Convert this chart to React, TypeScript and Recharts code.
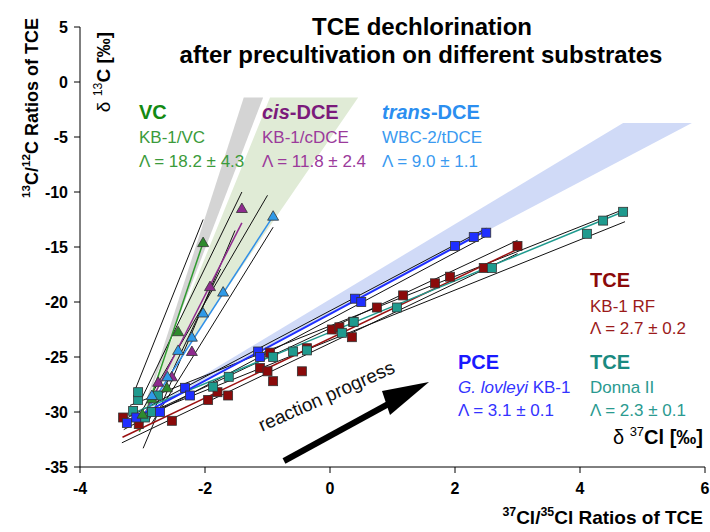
import React from 'react'
import { ScatterChart, Scatter, XAxis, YAxis } from 'recharts'

// shaded Λ ranges (apex, top-left, top-right)
const grayBandX = [-3.0, -1.38, -1.07]
const grayBandY = [-30.0, -1.4, -1.4]
const greenBandX = [-3.0, -0.96, 0.45]
const greenBandY = [-30.0, -1.4, -1.4]
const blueBandX = [-3.0, 4.69, 5.79]
const blueBandY = [-30.0, -3.73, -3.73]

// VC (KB-1/VC)
const vcX = [-3.0, -2.85, -2.61, -2.43, -2.03]
const vcY = [-30.2, -28.8, -27.8, -22.7, -14.6]
const vcFitX = [-3.05, -2.03]
const vcFitY = [-31.8, -14.6]

// cis-DCE (KB-1/cDCE)
const cdceX = [-2.75, -2.53, -2.21, -1.92, -1.41]
const cdceY = [-27.3, -26.8, -24.5, -18.6, -11.5]
const cdceFitX = [-2.95, -1.41]
const cdceFitY = [-30.0, -12.8]

// trans-DCE (WBC-2/tDCE)
const tdceX = [-2.85, -2.6, -2.43, -2.21, -2.03, -1.71, -0.91]
const tdceY = [-28.5, -26.8, -24.4, -23.2, -21.0, -19.1, -12.2]
const tdceFitX = [-3.0, -0.91]
const tdceFitY = [-30.5, -12.2]

// confidence lines of the steep group
const steepCi = [
  { x: [-3.12, -2.03], y: [-28.0, -12.5] },
  { x: [-2.99, -1.52], y: [-33.3, -13.5] },
  { x: [-3.05, -1.41], y: [-29.2, -10.0] },
  { x: [-3.0, -1.0], y: [-29.8, -10.3] },
  { x: [-2.85, -0.91], y: [-31.0, -13.2] },
  { x: [-2.9, -1.75], y: [-30.8, -17.0] },
]

// PCE (G. lovleyi KB-1)
const pceX = [-3.25, -3.1, -2.72, -2.32, -2.24, -1.15, -1.12, 0.4, 0.5, 2.0, 2.3, 2.5]
const pceY = [-31.0, -30.5, -30.0, -27.8, -28.5, -24.5, -25.0, -19.7, -20.0, -14.9, -14.1, -13.7]
const pceFitX = [-3.3, 2.5]
const pceFitY = [-31.1, -13.5]

// TCE (KB-1 RF)
const rfX = [-3.31, -3.06, -2.53, -1.95, -1.8, -1.63, -1.12, -1.0, -0.96, -0.91, -0.45, -0.37, 0.03, 0.15, 0.35, 0.37, 0.75, 1.17, 1.68, 1.92, 2.46, 3.0]
const rfY = [-30.5, -31.1, -30.8, -28.9, -28.2, -28.5, -26.0, -26.3, -24.6, -27.2, -26.3, -24.2, -22.5, -22.3, -23.2, -21.8, -20.5, -19.4, -18.3, -17.7, -16.9, -14.9]
const rfFitX = [-3.32, 3.0]
const rfFitY = [-32.3, -15.2]

// TCE (Donna II)
const donnaX = [-3.15, -3.07, -3.07, -2.96, -2.85, -2.75, -1.87, -1.62, -0.91, -0.59, -0.37, 0.19, 0.38, 1.07, 2.59, 4.11, 4.37, 4.69]
const donnaY = [-29.9, -28.9, -28.2, -30.5, -30.0, -28.5, -27.7, -26.8, -25.0, -24.5, -24.4, -22.8, -21.8, -20.5, -16.9, -13.8, -12.6, -11.8]
const donnaFitX = [-3.15, 4.69]
const donnaFitY = [-30.1, -11.8]

// confidence lines of the shallow group
const shallowCi = [
  { x: [-3.3, 2.5], y: [-30.7, -13.3] },
  { x: [-3.3, 2.5], y: [-31.6, -14.0] },
  { x: [-3.3, 3.0], y: [-31.2, -14.4] },
  { x: [-3.33, 3.0], y: [-32.8, -15.6] },
  { x: [-3.2, 4.69], y: [-29.4, -11.6] },
  { x: [-3.2, 4.72], y: [-30.8, -12.7] },
]

const xTicks = [-4, -2, 0, 2, 4, 6]
const yTicks = [-35, -30, -25, -20, -15, -10, -5, 0, 5]

const pts = (xs: number[], ys: number[]) => xs.map((x, i) => ({ x, y: ys[i] }))

const FONT = '"Liberation Sans", Arial, sans-serif'

const square = (color: string) => (p: any) => (
  <rect x={p.cx - 4.5} y={p.cy - 4.5} width={9} height={9} fill={color} stroke="#333" strokeWidth={0.8} />
)
const triangle = (color: string) => (p: any) => (
  <polygon
    points={`${p.cx},${p.cy - 5.5} ${p.cx - 5.5},${p.cy + 4} ${p.cx + 5.5},${p.cy + 4}`}
    fill={color}
    stroke="#333"
    strokeWidth={0.8}
  />
)
const noDot = () => <g />

const band = (color: string) => (lp: any) => (
  <path
    d={'M' + lp.points.map((pt: any) => `${pt.x},${pt.y}`).join('L') + 'Z'}
    fill={color}
    stroke="none"
  />
)

const Sup = ({ children }: { children: string }) => (
  <tspan fontSize="0.65em" dy={-8}>
    {children}
  </tspan>
)

export default function App() {
  return (
    <div style={{ position: 'absolute', left: 0, top: 0, width: 710, height: 532, background: '#fff' }}>
      <ScatterChart width={710} height={532} margin={{ top: 27, right: 5, bottom: 35, left: 0 }}>
        <XAxis
          dataKey="x"
          type="number"
          domain={[-4, 6]}
          ticks={xTicks}
          allowDataOverflow
          stroke="#000"
          tickSize={6}
          tickMargin={10}
          height={30}
          tick={{ fill: '#000', fontSize: 16, fontWeight: 'bold', fontFamily: FONT }}
        />
        <YAxis
          dataKey="y"
          type="number"
          domain={[-35, 5]}
          ticks={yTicks}
          allowDataOverflow
          stroke="#000"
          tickSize={6}
          tickMargin={6}
          width={80}
          tick={{ fill: '#000', fontSize: 16, fontWeight: 'bold', fontFamily: FONT }}
        />

        <Scatter data={pts(grayBandX, grayBandY)} shape={noDot} line={band('#d4d4d4')} isAnimationActive={false} />
        <Scatter data={pts(greenBandX, greenBandY)} shape={noDot} line={band('#e0ebd6')} isAnimationActive={false} />
        <Scatter data={pts(blueBandX, blueBandY)} shape={noDot} line={band('#d0daf7')} isAnimationActive={false} />

        {[...steepCi, ...shallowCi].map((c, i) => (
          <Scatter
            key={'ci' + i}
            data={pts(c.x, c.y)}
            shape={noDot}
            line={{ stroke: '#111', strokeWidth: 1 }}
            isAnimationActive={false}
          />
        ))}

        <Scatter data={pts(vcFitX, vcFitY)} shape={noDot} line={{ stroke: '#2e9a2e', strokeWidth: 1.5 }} isAnimationActive={false} />
        <Scatter data={pts(cdceFitX, cdceFitY)} shape={noDot} line={{ stroke: '#8e2a8e', strokeWidth: 1.5 }} isAnimationActive={false} />
        <Scatter data={pts(tdceFitX, tdceFitY)} shape={noDot} line={{ stroke: '#2f8fe8', strokeWidth: 1.5 }} isAnimationActive={false} />
        <Scatter data={pts(rfFitX, rfFitY)} shape={noDot} line={{ stroke: '#9a1010', strokeWidth: 1.5 }} isAnimationActive={false} />
        <Scatter data={pts(donnaFitX, donnaFitY)} shape={noDot} line={{ stroke: '#1f9a8e', strokeWidth: 1.5 }} isAnimationActive={false} />
        <Scatter data={pts(pceFitX, pceFitY)} shape={noDot} line={{ stroke: '#1f2fff', strokeWidth: 2 }} isAnimationActive={false} />

        <Scatter data={pts(rfX, rfY)} shape={square('#8b0a0a')} isAnimationActive={false} />
        <Scatter data={pts(donnaX, donnaY)} shape={square('#1f9a8e')} isAnimationActive={false} />
        <Scatter data={pts(pceX, pceY)} shape={square('#1f2fff')} isAnimationActive={false} />
        <Scatter data={pts(vcX, vcY)} shape={triangle('#2e8b2e')} isAnimationActive={false} />
        <Scatter data={pts(cdceX, cdceY)} shape={triangle('#8e2a8e')} isAnimationActive={false} />
        <Scatter data={pts(tdceX, tdceY)} shape={triangle('#2f9ae8')} isAnimationActive={false} />
      </ScatterChart>

      <svg
        width={710}
        height={532}
        style={{ position: 'absolute', left: 0, top: 0, pointerEvents: 'none' }}
        fontFamily={FONT}
      >
        <text x={422} y={35} textAnchor="middle" fontSize={24} fontWeight="bold" fill="#000">
          TCE dechlorination
        </text>
        <text x={421} y={63} textAnchor="middle" fontSize={24} fontWeight="bold" fill="#000">
          after precultivation on different substrates
        </text>

        <text transform="translate(38,108) rotate(-90)" textAnchor="middle" fontSize={18} fontWeight="bold" fill="#000">
          <Sup>13</Sup>
          <tspan dy={8}>C/</tspan>
          <Sup>12</Sup>
          <tspan dy={8}>C Ratios of TCE</tspan>
        </text>
        <text transform="translate(110,72) rotate(-90)" textAnchor="middle" fontSize={19} fill="#000">
          <tspan>δ </tspan>
          <Sup>13</Sup>
          <tspan dy={8} fontWeight="bold">C [‰]</tspan>
        </text>

        <text x={703} y={444} textAnchor="end" fontSize={20} fill="#000">
          <tspan>δ </tspan>
          <Sup>37</Sup>
          <tspan dy={8} fontWeight="bold">Cl [‰]</tspan>
        </text>
        <text x={703} y={524} textAnchor="end" fontSize={19} fontWeight="bold" fill="#000">
          <Sup>37</Sup>
          <tspan dy={8}>Cl/</tspan>
          <Sup>35</Sup>
          <tspan dy={8}>Cl Ratios of TCE</tspan>
        </text>

        <g fontSize={17}>
          <text x={139} y={119} fontSize={20} fontWeight="bold" fill="#138a13">VC</text>
          <text x={139} y={143} fill="#3b9b3b">KB-1/VC</text>
          <text x={139} y={167} fill="#3b9b3b">Λ = 18.2 ± 4.3</text>

          <text x={262} y={119} fontSize={20} fontWeight="bold" fill="#7b1a7b">
            <tspan fontStyle="italic">cis</tspan>-DCE
          </text>
          <text x={262} y={143} fill="#9b3a9b">KB-1/cDCE</text>
          <text x={262} y={167} fill="#9b3a9b">Λ = 11.8 ± 2.4</text>

          <text x={382} y={119} fontSize={20} fontWeight="bold" fill="#2b8ef0">
            <tspan fontStyle="italic">trans</tspan>-DCE
          </text>
          <text x={382} y={143} fill="#3a9af0">WBC-2/tDCE</text>
          <text x={382} y={167} fill="#3a9af0">Λ = 9.0 ± 1.1</text>

          <text x={590} y={287} fontSize={20} fontWeight="bold" fill="#8b0a0a">TCE</text>
          <text x={590} y={312} fill="#9b1a1a">KB-1 RF</text>
          <text x={590} y={334} fill="#9b1a1a">Λ = 2.7 ± 0.2</text>

          <text x={458} y={369} fontSize={20} fontWeight="bold" fill="#1a1aff">PCE</text>
          <text x={458} y={393} fill="#3333ff">
            <tspan fontStyle="italic">G. lovleyi</tspan> KB-1
          </text>
          <text x={458} y={416} fill="#3333ff">Λ = 3.1 ± 0.1</text>

          <text x={590} y={369} fontSize={20} fontWeight="bold" fill="#1a8a80">TCE</text>
          <text x={590} y={393} fill="#2a9a90">Donna II</text>
          <text x={590} y={416} fill="#2a9a90">Λ = 2.3 ± 0.1</text>
        </g>

        <text transform="translate(329,402) rotate(-24)" textAnchor="middle" fontSize={19} fill="#111">
          reaction progress
        </text>
        <line x1={284} y1={461} x2={392} y2={402} stroke="#000" strokeWidth={6} />
        <polygon points="429,382 382,391 390,415" fill="#000" />
      </svg>
    </div>
  )
}
